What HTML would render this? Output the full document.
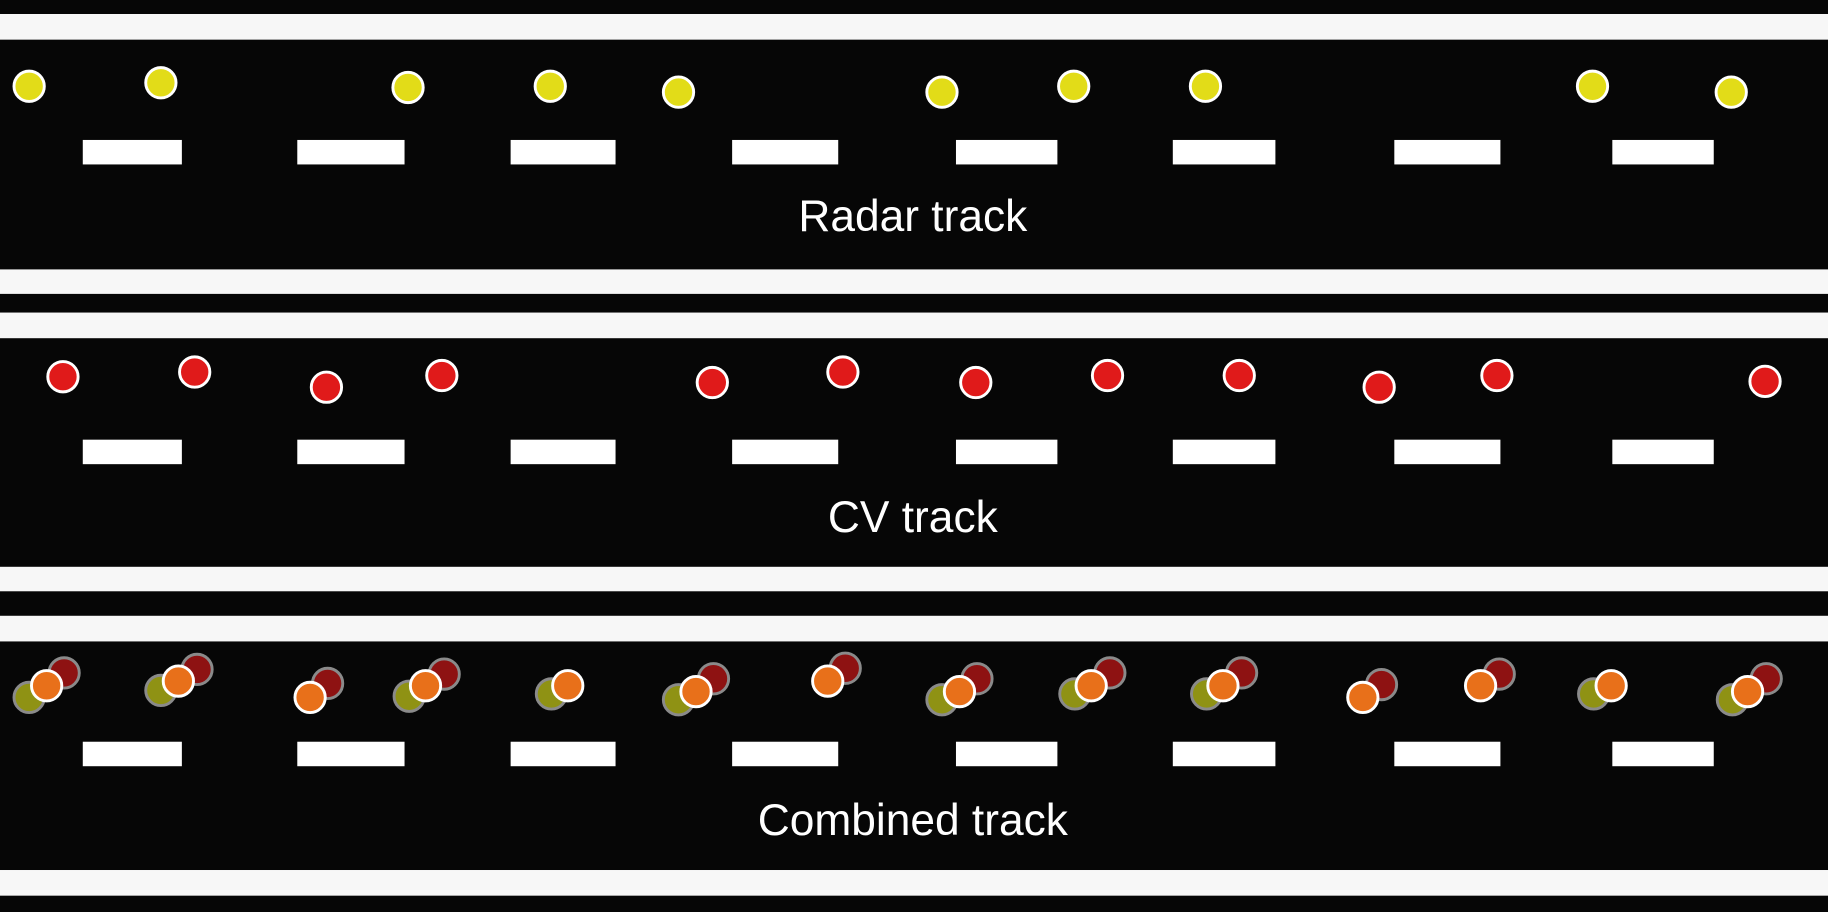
<!DOCTYPE html>
<html><head><meta charset="utf-8"><style>
html,body{margin:0;padding:0;background:#050505;}
svg{display:block;}
text{font-family:"Liberation Sans",sans-serif;fill:#fff;}
</style></head><body>
<svg width="1828" height="912" viewBox="0 0 1568 782" preserveAspectRatio="none">
<rect x="0" y="0" width="1568" height="782" fill="#060606"/>
<g fill="#f7f7f7">
<rect x="0" y="12" width="1568" height="22"/>
<rect x="0" y="231" width="1568" height="21"/>
<rect x="0" y="268" width="1568" height="22"/>
<rect x="0" y="486" width="1568" height="21"/>
<rect x="0" y="528" width="1568" height="22"/>
<rect x="0" y="746" width="1568" height="22"/>
</g>
<g fill="#fff">
<g id="d">
<rect x="71" y="120" width="85" height="21"/>
<rect x="255" y="120" width="92" height="21"/>
<rect x="438" y="120" width="90" height="21"/>
<rect x="628" y="120" width="91" height="21"/>
<rect x="820" y="120" width="87" height="21"/>
<rect x="1006" y="120" width="88" height="21"/>
<rect x="1196" y="120" width="91" height="21"/>
<rect x="1383" y="120" width="87" height="21"/>
</g>
<use href="#d" y="257"/>
<use href="#d" y="516"/>
</g>
<text x="783" y="198" font-size="38" text-anchor="middle">Radar track</text>
<text x="783" y="456" font-size="38" text-anchor="middle">CV track</text>
<text x="783" y="716" font-size="38" text-anchor="middle">Combined track</text>
<g fill="#e2dc18" stroke="#fff" stroke-width="2.5">
<circle cx="25" cy="74" r="13"/><circle cx="138" cy="71" r="13"/><circle cx="350" cy="75" r="13"/><circle cx="472" cy="74" r="13"/><circle cx="582" cy="79" r="13"/><circle cx="808" cy="79" r="13"/><circle cx="921" cy="74" r="13"/><circle cx="1034" cy="74" r="13"/><circle cx="1366" cy="74" r="13"/><circle cx="1485" cy="79" r="13"/>
</g>
<g fill="#e01a1a" stroke="#fff" stroke-width="2.5">
<circle cx="54" cy="323" r="13"/><circle cx="167" cy="319" r="13"/><circle cx="280" cy="332" r="13"/><circle cx="379" cy="322" r="13"/><circle cx="611" cy="328" r="13"/><circle cx="723" cy="319" r="13"/><circle cx="837" cy="328" r="13"/><circle cx="950" cy="322" r="13"/><circle cx="1063" cy="322" r="13"/><circle cx="1183" cy="332" r="13"/><circle cx="1284" cy="322" r="13"/><circle cx="1514" cy="327" r="13"/>
</g>
<g fill="#8f9214" stroke="#8a8a8a" stroke-width="2.5">
<circle cx="25" cy="598" r="13"/><circle cx="138" cy="592" r="13"/><circle cx="351" cy="597" r="13"/><circle cx="473" cy="595" r="13"/><circle cx="582" cy="600" r="13"/><circle cx="808" cy="600" r="13"/><circle cx="922" cy="595" r="13"/><circle cx="1035" cy="595" r="13"/><circle cx="1367" cy="595" r="13"/><circle cx="1486" cy="600" r="13"/>
</g>
<g fill="#8e1212" stroke="#8a8a8a" stroke-width="2.5">
<circle cx="55" cy="577" r="13"/><circle cx="169" cy="574" r="13"/><circle cx="281" cy="586" r="13"/><circle cx="381" cy="578" r="13"/><circle cx="612" cy="582" r="13"/><circle cx="725" cy="573" r="13"/><circle cx="838" cy="582" r="13"/><circle cx="952" cy="577" r="13"/><circle cx="1065" cy="577" r="13"/><circle cx="1185" cy="587" r="13"/><circle cx="1286" cy="578" r="13"/><circle cx="1515" cy="582" r="13"/>
</g>
<g fill="#e8701a" stroke="#fff" stroke-width="2.5">
<circle cx="40" cy="588" r="13"/><circle cx="153" cy="584" r="13"/><circle cx="266" cy="598" r="13"/><circle cx="365" cy="588" r="13"/><circle cx="487" cy="588" r="13"/><circle cx="597" cy="593" r="13"/><circle cx="710" cy="584" r="13"/><circle cx="823" cy="593" r="13"/><circle cx="936" cy="588" r="13"/><circle cx="1049" cy="588" r="13"/><circle cx="1169" cy="598" r="13"/><circle cx="1270" cy="588" r="13"/><circle cx="1382" cy="588" r="13"/><circle cx="1499" cy="593" r="13"/>
</g>
</svg>
</body></html>
